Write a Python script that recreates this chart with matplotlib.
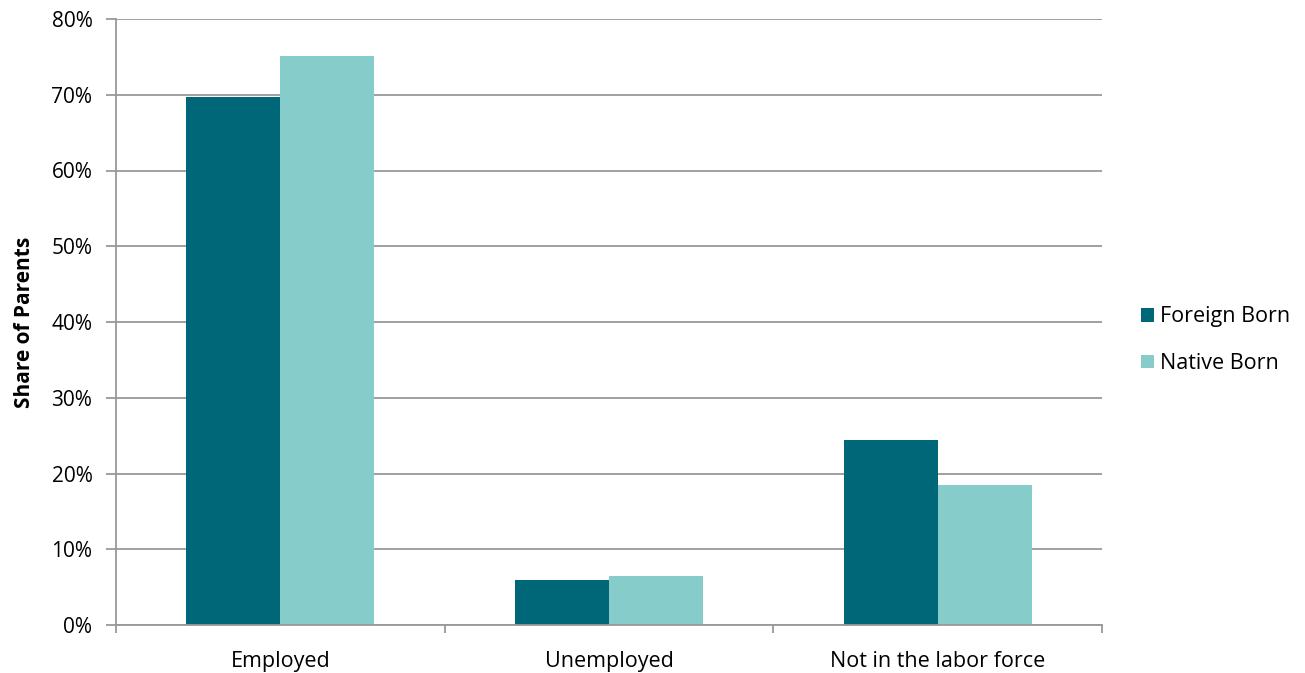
import matplotlib.pyplot as plt
import numpy as np
from matplotlib.ticker import PercentFormatter

categories = ['Employed', 'Unemployed', 'Not in the labor force']
foreign_born = [69.7, 5.9, 24.4]
native_born = [75.1, 6.5, 18.5]

plt.rcParams['font.family'] = ['Open Sans', 'DejaVu Sans']

fig = plt.figure(figsize=(13.05, 6.73), dpi=100)
ax = fig.add_axes([116 / 1305, 48 / 673, 986 / 1305, 606 / 673])

x = np.arange(len(categories))
w = 0.286
ax.bar(x - w / 2, foreign_born, w, color='#006778', label='Foreign Born')
ax.bar(x + w / 2, native_born, w, color='#85CCCB', label='Native Born')

ax.set_ylim(0, 80)
ax.set_xlim(-0.5, 2.5)
ax.set_yticks(range(0, 81, 10))
ax.yaxis.set_major_formatter(PercentFormatter(decimals=0))
ax.yaxis.grid(True, color='#999999', linewidth=1.3)
ax.set_axisbelow(True)

# category separators as major ticks, names as minor ticks
ax.set_xticks([-0.5, 0.5, 1.5, 2.5])
ax.set_xticklabels([])
ax.set_xticks(x, minor=True)
ax.set_xticklabels(categories, minor=True)
ax.tick_params(axis='x', which='minor', length=0, pad=19, labelsize=15.5)
ax.tick_params(axis='x', which='major', length=6, color='#999999', width=1.3)
ax.tick_params(axis='y', length=7, color='#999999', width=1.3, labelsize=15, pad=10)

for s in ['top', 'right']:
    ax.spines[s].set_visible(False)
for s in ['left', 'bottom']:
    ax.spines[s].set_color('#999999')
    ax.spines[s].set_linewidth(1.3)

ax.set_ylabel('Share of Parents', fontsize=15, fontweight='bold', labelpad=12)

ax.legend(loc='center left', bbox_to_anchor=(1.02, 0.47), frameon=False,
          fontsize=15.5, handlelength=0.6, handleheight=0.6, handletextpad=0.3,
          labelspacing=1.2)

fig.savefig('out.png', dpi=100)
